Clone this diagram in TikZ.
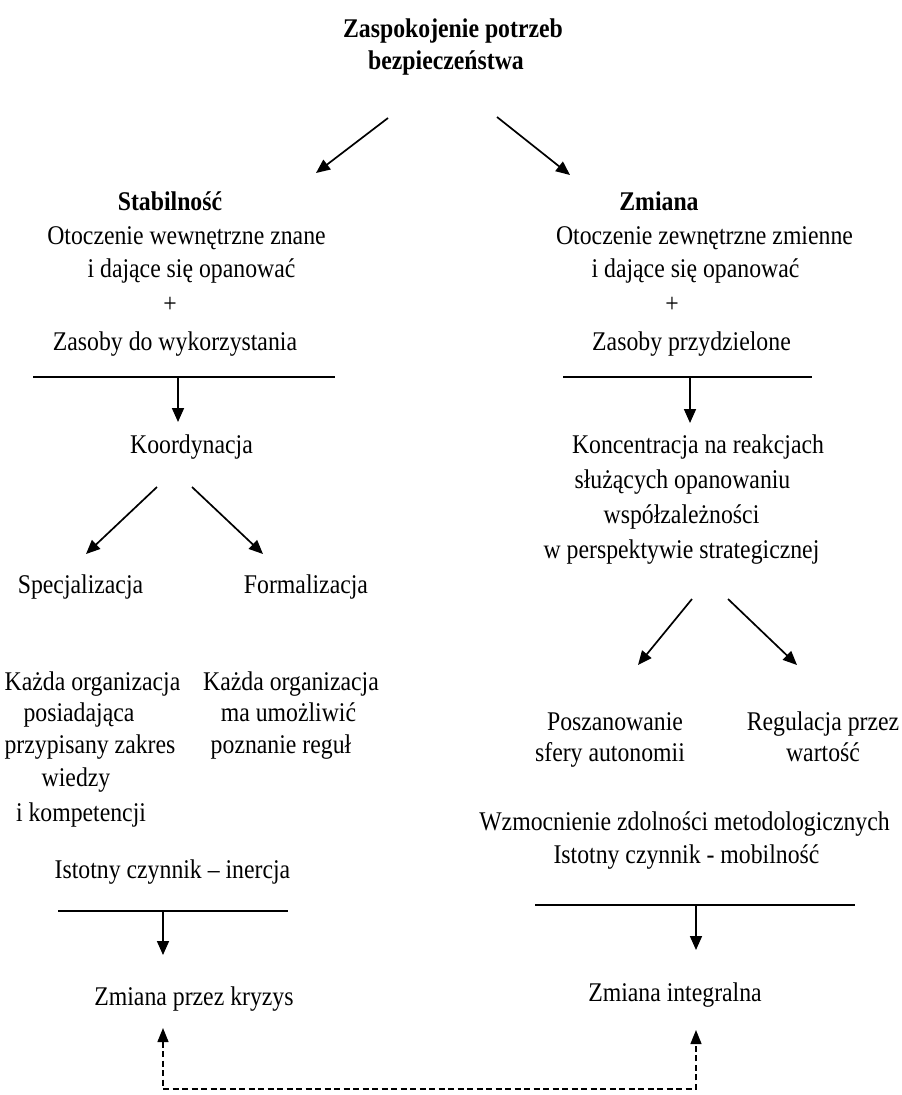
\documentclass[tikz,border=0pt]{standalone}
\usepackage{fontspec}
\setmainfont[FakeStretch=0.88]{Liberation Serif}
\usetikzlibrary{arrows.meta}
\begin{document}
\begin{tikzpicture}[x=1pt,y=-1pt,
  txt/.style={anchor=base,inner sep=0pt,font=\fontsize{27}{33}\selectfont},
  hd/.style={anchor=base,inner sep=0pt,font=\fontsize{27}{33}\selectfont\bfseries},
  arr/.style={line width=1.7pt,-{Triangle[length=14pt,width=12pt]}},
  bar/.style={line width=1.7pt},
  back/.style={line width=1.3pt,dash pattern=on 6pt off 3.5pt,
    {Triangle[length=14pt,width=11pt]}-{Triangle[length=14pt,width=11pt]}}]
\useasboundingbox (0,0) rectangle (902,1095);

% --- top heading
\node[hd] (title1) at (453,37) {Zaspokojenie potrzeb};
\node[hd] (title2) at (446,69) {bezpieczeństwa};

% --- left branch: stability
\node[hd]  (stab)   at (170,210) {Stabilność};
\node[txt] (stab1)  at (186.5,244) {Otoczenie wewnętrzne znane};
\node[txt] (stab2)  at (191.5,277) {i dające się opanować};
\node[txt] (stabp)  at (170,312) {+};
\node[txt] (stab3)  at (175,350) {Zasoby do wykorzystania};
\node[txt] (koord)  at (191.5,453) {Koordynacja};
\node[txt] (spec)   at (80.5,593) {Specjalizacja};
\node[txt] (form)   at (306,593) {Formalizacja};
\node[txt] (spec1)  at (92.5,690) {Każda organizacja};
\node[txt] (spec2)  at (79,721) {posiadająca};
\node[txt] (spec3)  at (90,753) {przypisany zakres};
\node[txt] (spec4)  at (76,786) {wiedzy};
\node[txt] (spec5)  at (81,821) {i kompetencji};
\node[txt] (form1)  at (291,690) {Każda organizacja};
\node[txt] (form2)  at (288.5,721) {ma umożliwić};
\node[txt] (form3)  at (281,753) {poznanie reguł};
\node[txt] (inerc)  at (172.5,878) {Istotny czynnik – inercja};
\node[txt] (kryzys) at (194,1005) {Zmiana przez kryzys};

% --- right branch: change
\node[hd]  (zm)     at (659,210) {Zmiana};
\node[txt] (zm1)    at (704.5,244) {Otoczenie zewnętrzne zmienne};
\node[txt] (zm2)    at (695.5,277) {i dające się opanować};
\node[txt] (zmp)    at (672,312) {+};
\node[txt] (zm3)    at (691.5,350) {Zasoby przydzielone};
\node[txt] (konc1)  at (698,453) {Koncentracja na reakcjach};
\node[txt] (konc2)  at (682.5,488) {służących opanowaniu};
\node[txt] (konc3)  at (681.5,523) {współzależności};
\node[txt] (konc4)  at (681.5,558) {w perspektywie strategicznej};
\node[txt] (posz1)  at (615,730) {Poszanowanie};
\node[txt] (posz2)  at (610,761) {sfery autonomii};
\node[txt] (reg1)   at (823,730) {Regulacja przez};
\node[txt] (reg2)   at (823,761) {wartość};
\node[txt] (wzm)    at (684.5,830) {Wzmocnienie zdolności metodologicznych};
\node[txt] (mobil)  at (686.5,863) {Istotny czynnik - mobilność};
\node[txt] (integ)  at (675,1001) {Zmiana integralna};

% --- connector end points
\coordinate (tL0) at (388,118);  \coordinate (tL1) at (316,173);
\coordinate (tR0) at (497,117);  \coordinate (tR1) at (570,175);
\coordinate (barLa) at (33,377); \coordinate (barLb) at (335,377);
\coordinate (barL0) at (178,377); \coordinate (barL1) at (178,422);
\coordinate (barRa) at (563,377); \coordinate (barRb) at (812,377);
\coordinate (barR0) at (690,377); \coordinate (barR1) at (690,423);
\coordinate (kL0) at (157,487);  \coordinate (kL1) at (86,554);
\coordinate (kR0) at (192,487);  \coordinate (kR1) at (263,554);
\coordinate (cL0) at (692,599);  \coordinate (cL1) at (638,665);
\coordinate (cR0) at (728,599);  \coordinate (cR1) at (797,665);
\coordinate (inA) at (58,911);   \coordinate (inB) at (288,911);
\coordinate (in0) at (163,911);  \coordinate (in1) at (163,955);
\coordinate (moA) at (535,905);  \coordinate (moB) at (855,905);
\coordinate (mo0) at (696,905);  \coordinate (mo1) at (696,950);
\coordinate (fbL) at (163,1028); \coordinate (fbLc) at (163,1089);
\coordinate (fbR) at (696,1030); \coordinate (fbRc) at (696,1089);

% --- connectors
\draw[arr] (tL0) -- (tL1);
\draw[arr] (tR0) -- (tR1);
\draw[bar] (barLa) -- (barLb);
\draw[arr] (barL0) -- (barL1);
\draw[bar] (barRa) -- (barRb);
\draw[arr] (barR0) -- (barR1);
\draw[arr] (kL0) -- (kL1);
\draw[arr] (kR0) -- (kR1);
\draw[arr] (cL0) -- (cL1);
\draw[arr] (cR0) -- (cR1);
\draw[bar] (inA) -- (inB);
\draw[arr] (in0) -- (in1);
\draw[bar] (moA) -- (moB);
\draw[arr] (mo0) -- (mo1);
\draw[back] (fbL) -- (fbLc) -- (fbRc) -- (fbR);
\end{tikzpicture}
\end{document}
